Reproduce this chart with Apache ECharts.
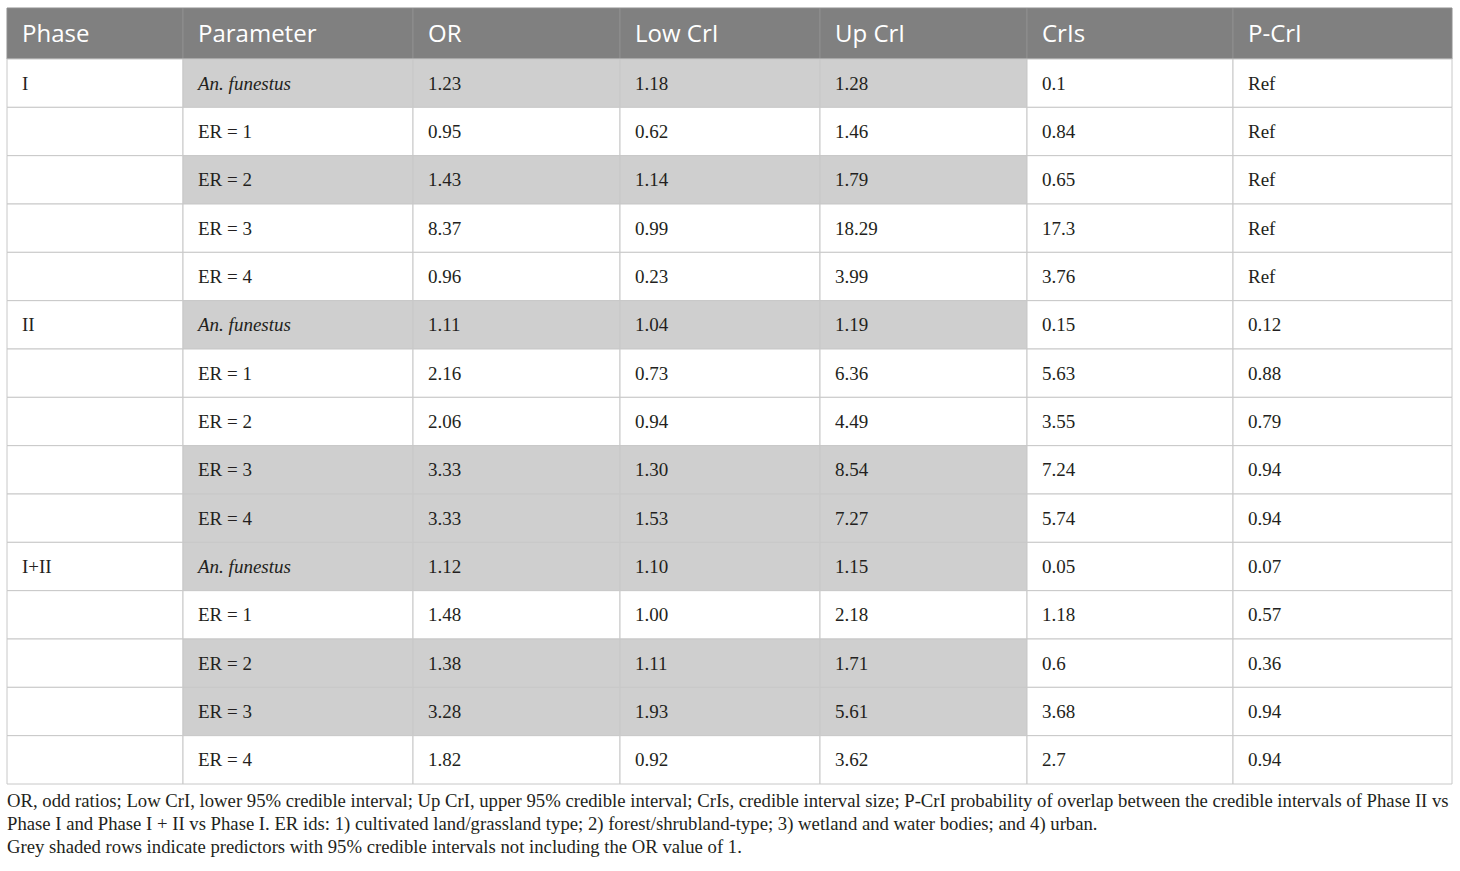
<!DOCTYPE html>
<html>
<head>
<meta charset="utf-8">
<script src="https://cdn.jsdelivr.net/npm/echarts@6/dist/echarts.min.js"></script>
<style>
html,body{margin:0;padding:0;background:#fff;}
#chart{width:1460px;height:871px;}
</style>
</head>
<body>
<div id="chart"></div>
<script>
// ---- data ----
const headers = ['Phase', 'Parameter', 'OR', 'Low CrI', 'Up CrI', 'CrIs', 'P-CrI'];
const phases = ['I', '', '', '', '', 'II', '', '', '', '', 'I+II', '', '', '', ''];
const params = ['An. funestus', 'ER = 1', 'ER = 2', 'ER = 3', 'ER = 4',
                'An. funestus', 'ER = 1', 'ER = 2', 'ER = 3', 'ER = 4',
                'An. funestus', 'ER = 1', 'ER = 2', 'ER = 3', 'ER = 4'];
const orVals = [1.23, 0.95, 1.43, 8.37, 0.96, 1.11, 2.16, 2.06, 3.33, 3.33, 1.12, 1.48, 1.38, 3.28, 1.82];
const lowCrI = [1.18, 0.62, 1.14, 0.99, 0.23, 1.04, 0.73, 0.94, 1.30, 1.53, 1.10, 1.00, 1.11, 1.93, 0.92];
const upCrI = [1.28, 1.46, 1.79, 18.29, 3.99, 1.19, 6.36, 4.49, 8.54, 7.27, 1.15, 2.18, 1.71, 5.61, 3.62];
const crIs = [0.1, 0.84, 0.65, 17.3, 3.76, 0.15, 5.63, 3.55, 7.24, 5.74, 0.05, 1.18, 0.6, 3.68, 2.7];
const pCrI = ['Ref', 'Ref', 'Ref', 'Ref', 'Ref', 0.12, 0.88, 0.79, 0.94, 0.94, 0.07, 0.57, 0.36, 0.94, 0.94];
const shaded = [1, 0, 1, 0, 0, 1, 0, 0, 1, 1, 1, 0, 1, 1, 0];
const notes = [
  'OR, odd ratios; Low CrI, lower 95% credible interval; Up CrI, upper 95% credible interval; CrIs, credible interval size; P-CrI probability of overlap between the credible intervals of Phase II vs',
  'Phase I and Phase I + II vs Phase I. ER ids: 1) cultivated land/grassland type; 2) forest/shrubland-type; 3) wetland and water bodies; and 4) urban.',
  'Grey shaded rows indicate predictors with 95% credible intervals not including the OR value of 1.'
];

// ---- layout (not data) ----
const colEdges = [0, 176, 406, 613, 813, 1020, 1226, 1445];
const rowIdx = phases.map((_, i) => i);

function cellTexts(i) {
  return [
    phases[i],
    params[i],
    orVals[i].toFixed(2),
    lowCrI[i].toFixed(2),
    upCrI[i].toFixed(2),
    String(crIs[i]),
    String(pCrI[i])
  ];
}

const chart = echarts.init(document.getElementById('chart'), null, {renderer: 'svg'});

function renderHeader(params, api) {
  const h = api.size([0, 1])[1];
  const cy = api.coord([0, 0])[1];
  const top = cy - h / 2;
  const children = [];
  for (let c = 0; c < headers.length; c++) {
    const x0 = api.coord([colEdges[c], 0])[0];
    const x1 = api.coord([colEdges[c + 1], 0])[0];
    children.push({
      type: 'rect',
      shape: {x: x0, y: top, width: x1 - x0, height: h},
      style: {fill: '#808080', stroke: '#8e8e8e', lineWidth: 1}
    });
    children.push({
      type: 'text',
      style: {
        x: x0 + 15, y: cy - 1, text: headers[c],
        fill: '#ffffff', font: '24px "Open Sans", sans-serif',
        verticalAlign: 'middle', align: 'left'
      }
    });
  }
  return {type: 'group', children};
}

function renderRow(params, api) {
  const r = api.value(1);
  const h = api.size([0, 1])[1];
  const cy = api.coord([0, r])[1];
  const top = cy - h / 2;
  const texts = cellTexts(r);
  const children = [];
  for (let c = 0; c < headers.length; c++) {
    const x0 = api.coord([colEdges[c], r])[0];
    const x1 = api.coord([colEdges[c + 1], r])[0];
    const fill = (shaded[r] && c >= 1 && c <= 4) ? '#cfcfcf' : '#ffffff';
    children.push({
      type: 'rect',
      shape: {x: x0, y: top, width: x1 - x0, height: h},
      style: {fill: fill, stroke: '#c8c8c8', lineWidth: 1}
    });
    const italic = (c === 1 && texts[c].indexOf('An.') === 0);
    children.push({
      type: 'text',
      style: {
        x: x0 + 15, y: cy, text: texts[c],
        fill: '#231f20',
        font: (italic ? 'italic ' : '') + '19px "Liberation Serif", "DejaVu Serif", serif',
        verticalAlign: 'middle', align: 'left'
      }
    });
  }
  return {type: 'group', children};
}

const option = {
  backgroundColor: '#ffffff',
  animation: false,
  grid: [
    {left: 7, width: 1445, top: 8, height: 51},
    {left: 7, width: 1445, top: 59, height: 725}
  ],
  xAxis: [
    {gridIndex: 0, type: 'value', min: 0, max: 1445, show: false},
    {gridIndex: 1, type: 'value', min: 0, max: 1445, show: false}
  ],
  yAxis: [
    {gridIndex: 0, type: 'category', data: ['header'], show: false},
    {gridIndex: 1, type: 'category', data: rowIdx.map(String), inverse: true, show: false}
  ],
  graphic: notes.map((t, i) => ({
    type: 'text',
    left: 7,
    top: 791 + i * 23,
    style: {text: t, fill: '#231f20', font: '18.7px "Liberation Serif", serif'}
  })),
  series: [
    {
      type: 'custom', xAxisIndex: 0, yAxisIndex: 0,
      data: [[0, 0]], renderItem: renderHeader, silent: true
    },
    {
      type: 'custom', xAxisIndex: 1, yAxisIndex: 1,
      data: rowIdx.map(i => [0, i]), renderItem: renderRow, silent: true
    }
  ]
};
chart.setOption(option);
</script>
</body>
</html>
